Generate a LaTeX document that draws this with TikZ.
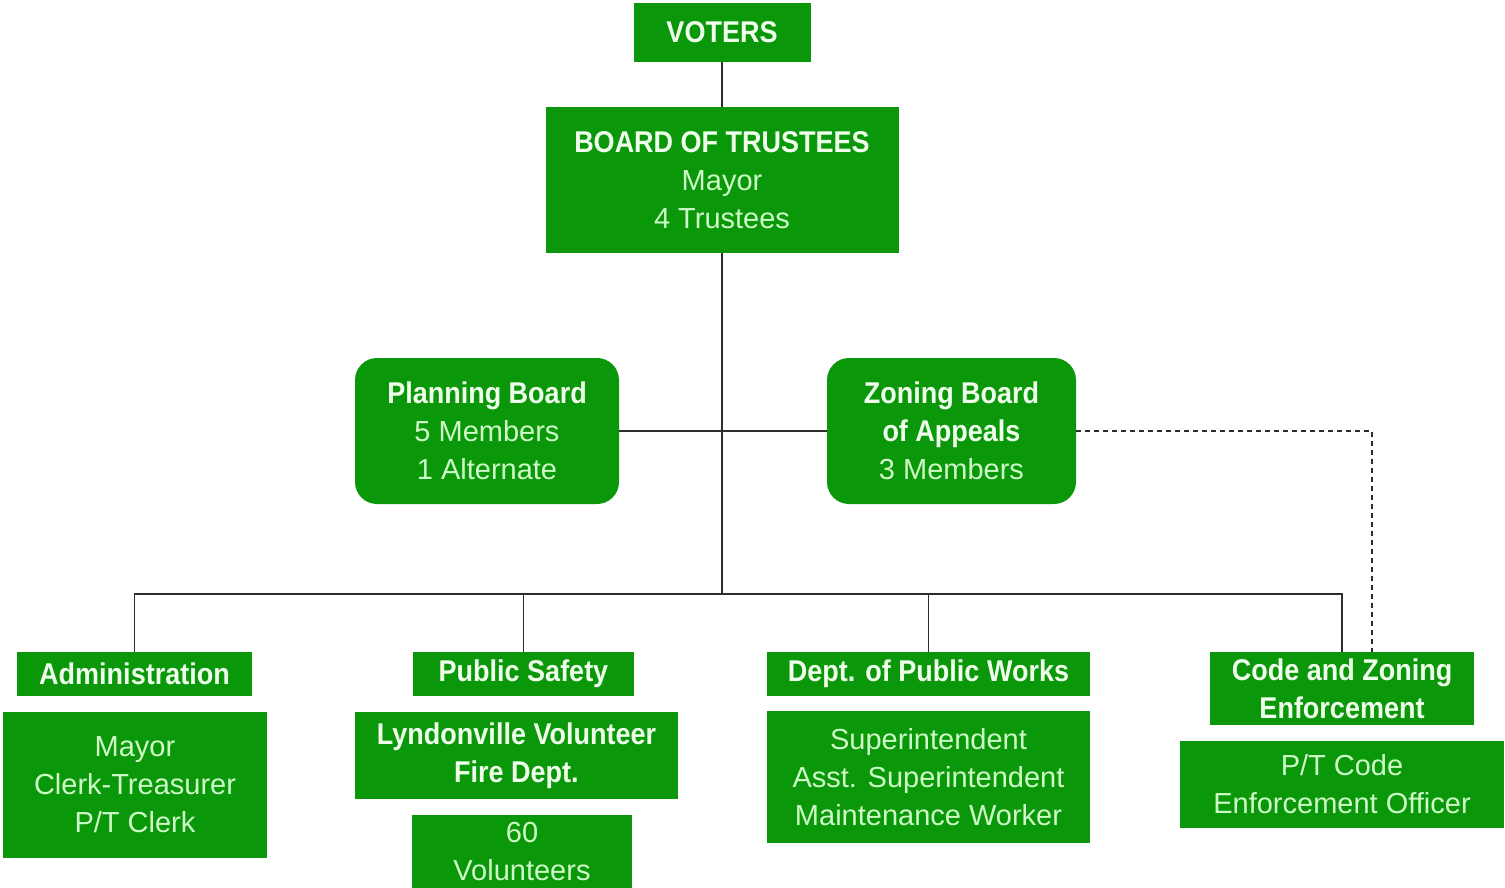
\documentclass[tikz,border=0pt]{standalone}
\usepackage{fontspec}
\setmainfont{Liberation Sans}
\newfontfamily\hdfont{Liberation Sans}[FakeStretch=0.9]
\definecolor{boxgreen}{RGB}{10,152,10}
\definecolor{titletext}{RGB}{240,255,236}
\definecolor{bodytext}{RGB}{205,250,198}
\definecolor{linegray}{RGB}{45,45,45}
\newcommand\hd[1]{{\hdfont\fontsize{30}{38}\selectfont\color{titletext}\bfseries #1}}
\tikzset{
  box/.style={fill=boxgreen, inner sep=0pt, align=center, text=bodytext,
    font=\fontsize{29}{38}\selectfont},
  rbox/.style={box, rounded corners=22pt},
  conn/.style={draw=linegray, line width=1.8pt},
  dconn/.style={conn, dash pattern=on 5pt off 4pt},
}
\begin{document}
\begin{tikzpicture}[x=1pt,y=-1pt]
\useasboundingbox (0,0) rectangle (1505,888);
% top
\node[box, minimum width=177pt, minimum height=59pt] (voters) at (722,32.5) {\hd{VOTERS}};
\node[box, minimum width=353pt, minimum height=146pt] (board) at (722,180) {\hd{BOARD OF TRUSTEES}\\Mayor\\4 Trustees};
% middle
\node[rbox, minimum width=264pt, minimum height=146pt] (plan) at (487,431) {\hd{Planning Board}\\5 Members\\1 Alternate};
\node[rbox, minimum width=249pt, minimum height=146pt] (zba) at (951.5,431) {\hd{Zoning Board}\\\hd{of Appeals}\\3 Members};
% bottom headers
\node[box, minimum width=235pt, minimum height=44pt] (admh) at (134.5,674) {\hd{Administration}};
\node[box, minimum width=221pt, minimum height=44pt] (psh) at (523.5,674) {\hd{Public Safety}};
\node[box, minimum width=323pt, minimum height=44pt] (dpwh) at (928.5,674) {\hd{Dept. of Public Works}};
\node[box, minimum width=264pt, minimum height=73pt] (czh) at (1342,688.5) {\hd{Code and Zoning}\\\hd{Enforcement}};
% bottom bodies
\node[box, minimum width=264pt, minimum height=146pt] (admb) at (135,785) {Mayor\\Clerk-Treasurer\\P/T Clerk};
\node[box, minimum width=323pt, minimum height=87pt] (fire) at (516.5,755.5) {\hd{Lyndonville Volunteer}\\\hd{Fire Dept.}};
\node[box, minimum width=220pt, minimum height=73pt] (vol) at (522,851.5) {60\\Volunteers};
\node[box, minimum width=323pt, minimum height=132pt] (dpwb) at (928.5,777) {Superintendent\\Asst. Superintendent\\Maintenance Worker};
\node[box, minimum width=324pt, minimum height=87pt] (pt) at (1342,784.5) {P/T Code\\Enforcement Officer};
% connectors
\coordinate (bus) at (722,594);
\coordinate (dc) at (1372,652);
\draw[conn] (voters.south) -- (board.north);
\draw[conn] (board.south) -- (bus);
\draw[conn] (plan.east) -- (zba.west);
\draw[conn] (admh.north) |- (bus);
\draw[conn] (psh.north) |- (bus);
\draw[conn] (dpwh.north) |- (bus);
\draw[conn] (czh.north) |- (bus);
\draw[dconn] (zba.east) -| (dc);
\end{tikzpicture}
\end{document}
